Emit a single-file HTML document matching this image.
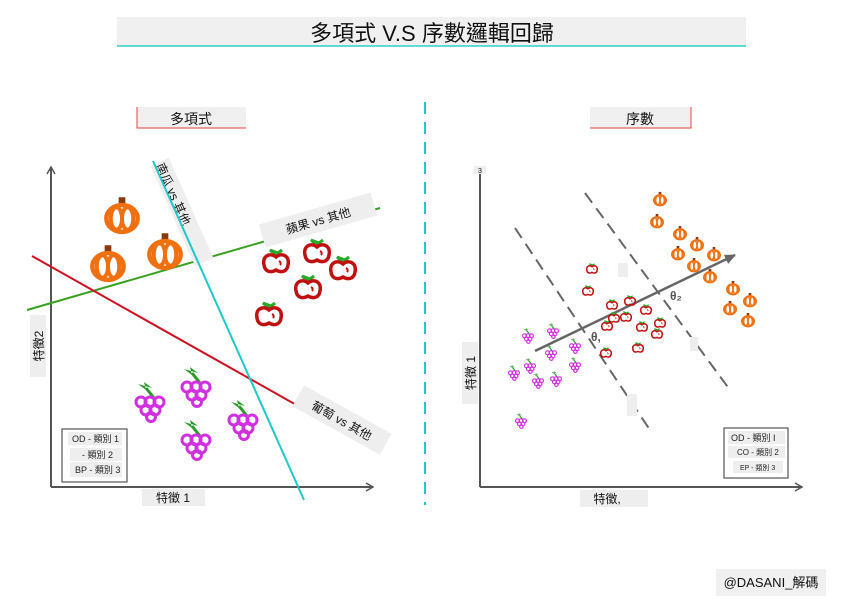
<!DOCTYPE html>
<html><head><meta charset="utf-8"><style>
html,body{margin:0;padding:0;background:#fff;}
svg{display:block;font-family:"Liberation Sans","Noto Sans CJK TC",sans-serif;}
</style></head><body>
<svg width="849" height="600" viewBox="0 0 849 600" xmlns="http://www.w3.org/2000/svg">
<defs>
<symbol id="pk" viewBox="-16 -18 32 34" overflow="visible">
<rect x="-3" y="-16" width="6" height="7" fill="#8a3a10"/>
<ellipse cx="0" cy="3" rx="14" ry="12" fill="none" stroke="#f07010" stroke-width="4"/>
<ellipse cx="-5" cy="3" rx="5" ry="10" fill="none" stroke="#f07010" stroke-width="3.5"/>
<ellipse cx="5" cy="3" rx="5" ry="10" fill="none" stroke="#f07010" stroke-width="3.5"/>
</symbol>
<symbol id="ap" viewBox="-14 -16 28 30" overflow="visible">
<path d="M-6,-12 L0,-7 L6,-12 L2,-9 Z" fill="#2aa82a" stroke="#2aa82a" stroke-width="3"/>
<path d="M0,-5 C-6,-10 -14,-6 -12,3 C-11,10 -5,11 0,8 C5,11 11,10 12,3 C14,-6 6,-10 0,-5 Z" fill="none" stroke="#c01010" stroke-width="3.5"/>
<path d="M3,-1 C5,0 5,2 4,3" fill="none" stroke="#c01010" stroke-width="2"/>
</symbol>
<symbol id="gr" viewBox="-18 -20 36 40" overflow="visible">
<path d="M-12,-16 L-4,-10 L-6,-18 L2,-12 Z" fill="#2a9a2a"/>
<path d="M-4,-12 L4,-2" stroke="#2a9a2a" stroke-width="3"/>
<g fill="none" stroke="#d030e0" stroke-width="3">
<circle cx="-9" cy="2" r="5"/><circle cx="0" cy="2" r="5"/><circle cx="9" cy="2" r="5"/>
<circle cx="-4" cy="10" r="5"/><circle cx="5" cy="10" r="5"/><circle cx="1" cy="17" r="4.5"/>
</g>
</symbol>
<marker id="ar" markerWidth="10" markerHeight="10" refX="8" refY="5" orient="auto" markerUnits="userSpaceOnUse">
<path d="M1,1 L8,5 L1,9" fill="none" stroke="#555" stroke-width="1.5"/>
</marker>
<marker id="ar2" markerWidth="12" markerHeight="12" refX="10" refY="6" orient="auto" markerUnits="userSpaceOnUse">
<path d="M0,1 L11,6 L0,11 Z" fill="#666"/>
</marker>
</defs>

<rect x="117" y="17" width="629" height="29" fill="#f0f0f0"/>
<line x1="117" y1="46" x2="746" y2="46" stroke="#30d0c8" stroke-width="1.5"/>
<text x="432" y="41" font-size="22" text-anchor="middle" fill="#111">多項式 V.S 序數邏輯回歸</text>

<line x1="425" y1="102" x2="425" y2="505" stroke="#20c8c8" stroke-width="2" stroke-dasharray="12,8"/>

<rect x="137" y="107" width="109" height="21" fill="#f0f0f0"/>
<path d="M137,107 V128 H246" fill="none" stroke="#e84040" stroke-width="1"/>
<text x="191" y="124" font-size="14" text-anchor="middle" fill="#111">多項式</text>
<rect x="590" y="107" width="101" height="21" fill="#f0f0f0"/>
<path d="M590,128 H691 V107" fill="none" stroke="#e84040" stroke-width="1"/>
<text x="640" y="124" font-size="14" text-anchor="middle" fill="#111">序數</text>

<line x1="51" y1="487" x2="51" y2="167" stroke="#555" stroke-width="2" marker-end="url(#ar)"/>
<line x1="51" y1="487" x2="373" y2="487" stroke="#555" stroke-width="2" marker-end="url(#ar)"/>
<rect x="30" y="315" width="16" height="62" fill="#eee"/>
<text transform="translate(43,346) rotate(-90)" font-size="12" text-anchor="middle" fill="#111">特徵2</text>
<rect x="142" y="489" width="63" height="17" fill="#eee"/>
<text x="173" y="502" font-size="12" text-anchor="middle" fill="#111">特徵 1</text>

<line x1="27" y1="310" x2="380" y2="208" stroke="#3aa020" stroke-width="2"/>
<line x1="32" y1="256" x2="378" y2="451" stroke="#d01020" stroke-width="2"/>

<g transform="translate(182,212) rotate(66)">
<rect x="-55" y="-10" width="110" height="20" fill="#eee"/>
<text x="-20" y="5" font-size="12" text-anchor="middle" fill="#111">南瓜 vs 其他</text>
</g>
<line x1="153" y1="161" x2="304" y2="500" stroke="#20c8c8" stroke-width="2"/>
<g transform="translate(318,220) rotate(-16)">
<rect x="-58" y="-12" width="116" height="24" fill="#eee"/>
<text x="0" y="5" font-size="12" text-anchor="middle" fill="#111">蘋果 vs 其他</text>
</g>
<g transform="translate(342,420) rotate(29)">
<rect x="-50" y="-12" width="100" height="24" fill="#eee"/>
<text x="0" y="5" font-size="12" text-anchor="middle" fill="#111">葡萄 vs 其他</text>
</g>

<use href="#pk" x="104" y="195" width="36" height="38"/>
<use href="#pk" x="90" y="243" width="36" height="38"/>
<use href="#pk" x="147" y="231" width="36" height="38"/>
<use href="#ap" x="262" y="246" width="28" height="30"/>
<use href="#ap" x="303" y="236" width="28" height="30"/>
<use href="#ap" x="329" y="253" width="28" height="30"/>
<use href="#ap" x="294" y="272" width="28" height="30"/>
<use href="#ap" x="255" y="299" width="28" height="30"/>
<use href="#gr" x="132" y="380" width="36" height="40"/>
<use href="#gr" x="178" y="365" width="36" height="40"/>
<use href="#gr" x="178" y="418" width="36" height="40"/>
<use href="#gr" x="225" y="398" width="36" height="40"/>

<rect x="62" y="429" width="65" height="53" fill="#fff" stroke="#555" stroke-width="1.2"/>
<rect x="68" y="432" width="54" height="13" fill="#eee"/>
<text x="72" y="442" font-size="9" fill="#222">OD - 類別 1</text>
<rect x="70" y="448" width="52" height="13" fill="#eee"/>
<text x="82" y="458" font-size="9" fill="#222">- 類別 2</text>
<rect x="70" y="462" width="52" height="15" fill="#eee"/>
<text x="75" y="473" font-size="9" fill="#222">BP - 類別 3</text>

<line x1="480" y1="487" x2="480" y2="167" stroke="#555" stroke-width="2"/>
<rect x="474" y="166" width="12" height="8" fill="#eee"/>
<text x="480" y="173" font-size="7" text-anchor="middle" fill="#111">3</text>
<line x1="480" y1="487" x2="802" y2="487" stroke="#555" stroke-width="2" marker-end="url(#ar)"/>
<rect x="462" y="342" width="16" height="62" fill="#eee"/>
<text transform="translate(475,373) rotate(-90)" font-size="12" text-anchor="middle" fill="#111">特徵 1</text>
<rect x="580" y="490" width="68" height="17" fill="#eee"/>
<text x="607" y="503" font-size="12" text-anchor="middle" fill="#111">特徵,</text>

<line x1="515" y1="228" x2="650" y2="430" stroke="#666" stroke-width="2" stroke-dasharray="12,7"/>
<line x1="585" y1="193" x2="730" y2="390" stroke="#666" stroke-width="2" stroke-dasharray="12,7"/>
<rect x="618" y="263" width="10" height="14" fill="#eee"/>
<rect x="627" y="394" width="10" height="22" fill="#eee"/>
<rect x="690" y="337" width="8" height="14" fill="#eee"/>
<line x1="535" y1="351" x2="735" y2="255" stroke="#666" stroke-width="2.5" marker-end="url(#ar2)"/>
<text x="591" y="341" font-size="12" font-weight="bold" fill="#555">θ,</text>
<text x="670" y="300" font-size="12" font-weight="bold" fill="#555">θ₂</text>

<g>
<use href="#pk" x="653" y="191" width="14" height="15"/>
<use href="#pk" x="650" y="213" width="14" height="15"/>
<use href="#pk" x="673" y="225" width="14" height="15"/>
<use href="#pk" x="690" y="236" width="14" height="15"/>
<use href="#pk" x="671" y="245" width="14" height="15"/>
<use href="#pk" x="707" y="246" width="14" height="15"/>
<use href="#pk" x="687" y="257" width="14" height="15"/>
<use href="#pk" x="703" y="268" width="14" height="15"/>
<use href="#pk" x="726" y="280" width="14" height="15"/>
<use href="#pk" x="743" y="292" width="14" height="15"/>
<use href="#pk" x="723" y="300" width="14" height="15"/>
<use href="#pk" x="741" y="312" width="14" height="15"/>
</g>
<g>
<use href="#ap" x="586" y="262" width="12" height="13"/>
<use href="#ap" x="582" y="284" width="12" height="13"/>
<use href="#ap" x="606" y="298" width="12" height="13"/>
<use href="#ap" x="624" y="294" width="12" height="13"/>
<use href="#ap" x="640" y="303" width="12" height="13"/>
<use href="#ap" x="620" y="310" width="12" height="13"/>
<use href="#ap" x="601" y="319" width="12" height="13"/>
<use href="#ap" x="636" y="320" width="12" height="13"/>
<use href="#ap" x="654" y="316" width="12" height="13"/>
<use href="#ap" x="608" y="311" width="12" height="13"/>
<use href="#ap" x="632" y="341" width="12" height="13"/>
<use href="#ap" x="600" y="346" width="12" height="13"/>
<use href="#ap" x="651" y="327" width="12" height="13"/>
</g>
<g>
<use href="#gr" x="521" y="327" width="14" height="16"/>
<use href="#gr" x="546" y="322" width="14" height="16"/>
<use href="#gr" x="568" y="337" width="14" height="16"/>
<use href="#gr" x="544" y="344" width="14" height="16"/>
<use href="#gr" x="523" y="357" width="14" height="16"/>
<use href="#gr" x="568" y="356" width="14" height="16"/>
<use href="#gr" x="507" y="364" width="14" height="16"/>
<use href="#gr" x="531" y="372" width="14" height="16"/>
<use href="#gr" x="549" y="370" width="14" height="16"/>
<use href="#gr" x="514" y="412" width="14" height="16"/>
</g>

<rect x="724" y="428" width="64" height="50" fill="#fff" stroke="#555" stroke-width="1.2"/>
<rect x="728" y="431" width="57" height="13" fill="#eee"/>
<text x="731" y="441" font-size="9" fill="#222">OD - 類別 I</text>
<rect x="728" y="446" width="57" height="12" fill="#eee"/>
<text x="737" y="455" font-size="8" fill="#222">CO - 類別 2</text>
<rect x="733" y="461" width="50" height="12" fill="#eee"/>
<text x="740" y="470" font-size="7" fill="#222">EP - 類別 3</text>

<rect x="716" y="569" width="110" height="27" fill="#f0f0f0"/>
<text x="771" y="587" font-size="13" text-anchor="middle" fill="#111">@DASANI_解碼</text>
</svg>
</body></html>
